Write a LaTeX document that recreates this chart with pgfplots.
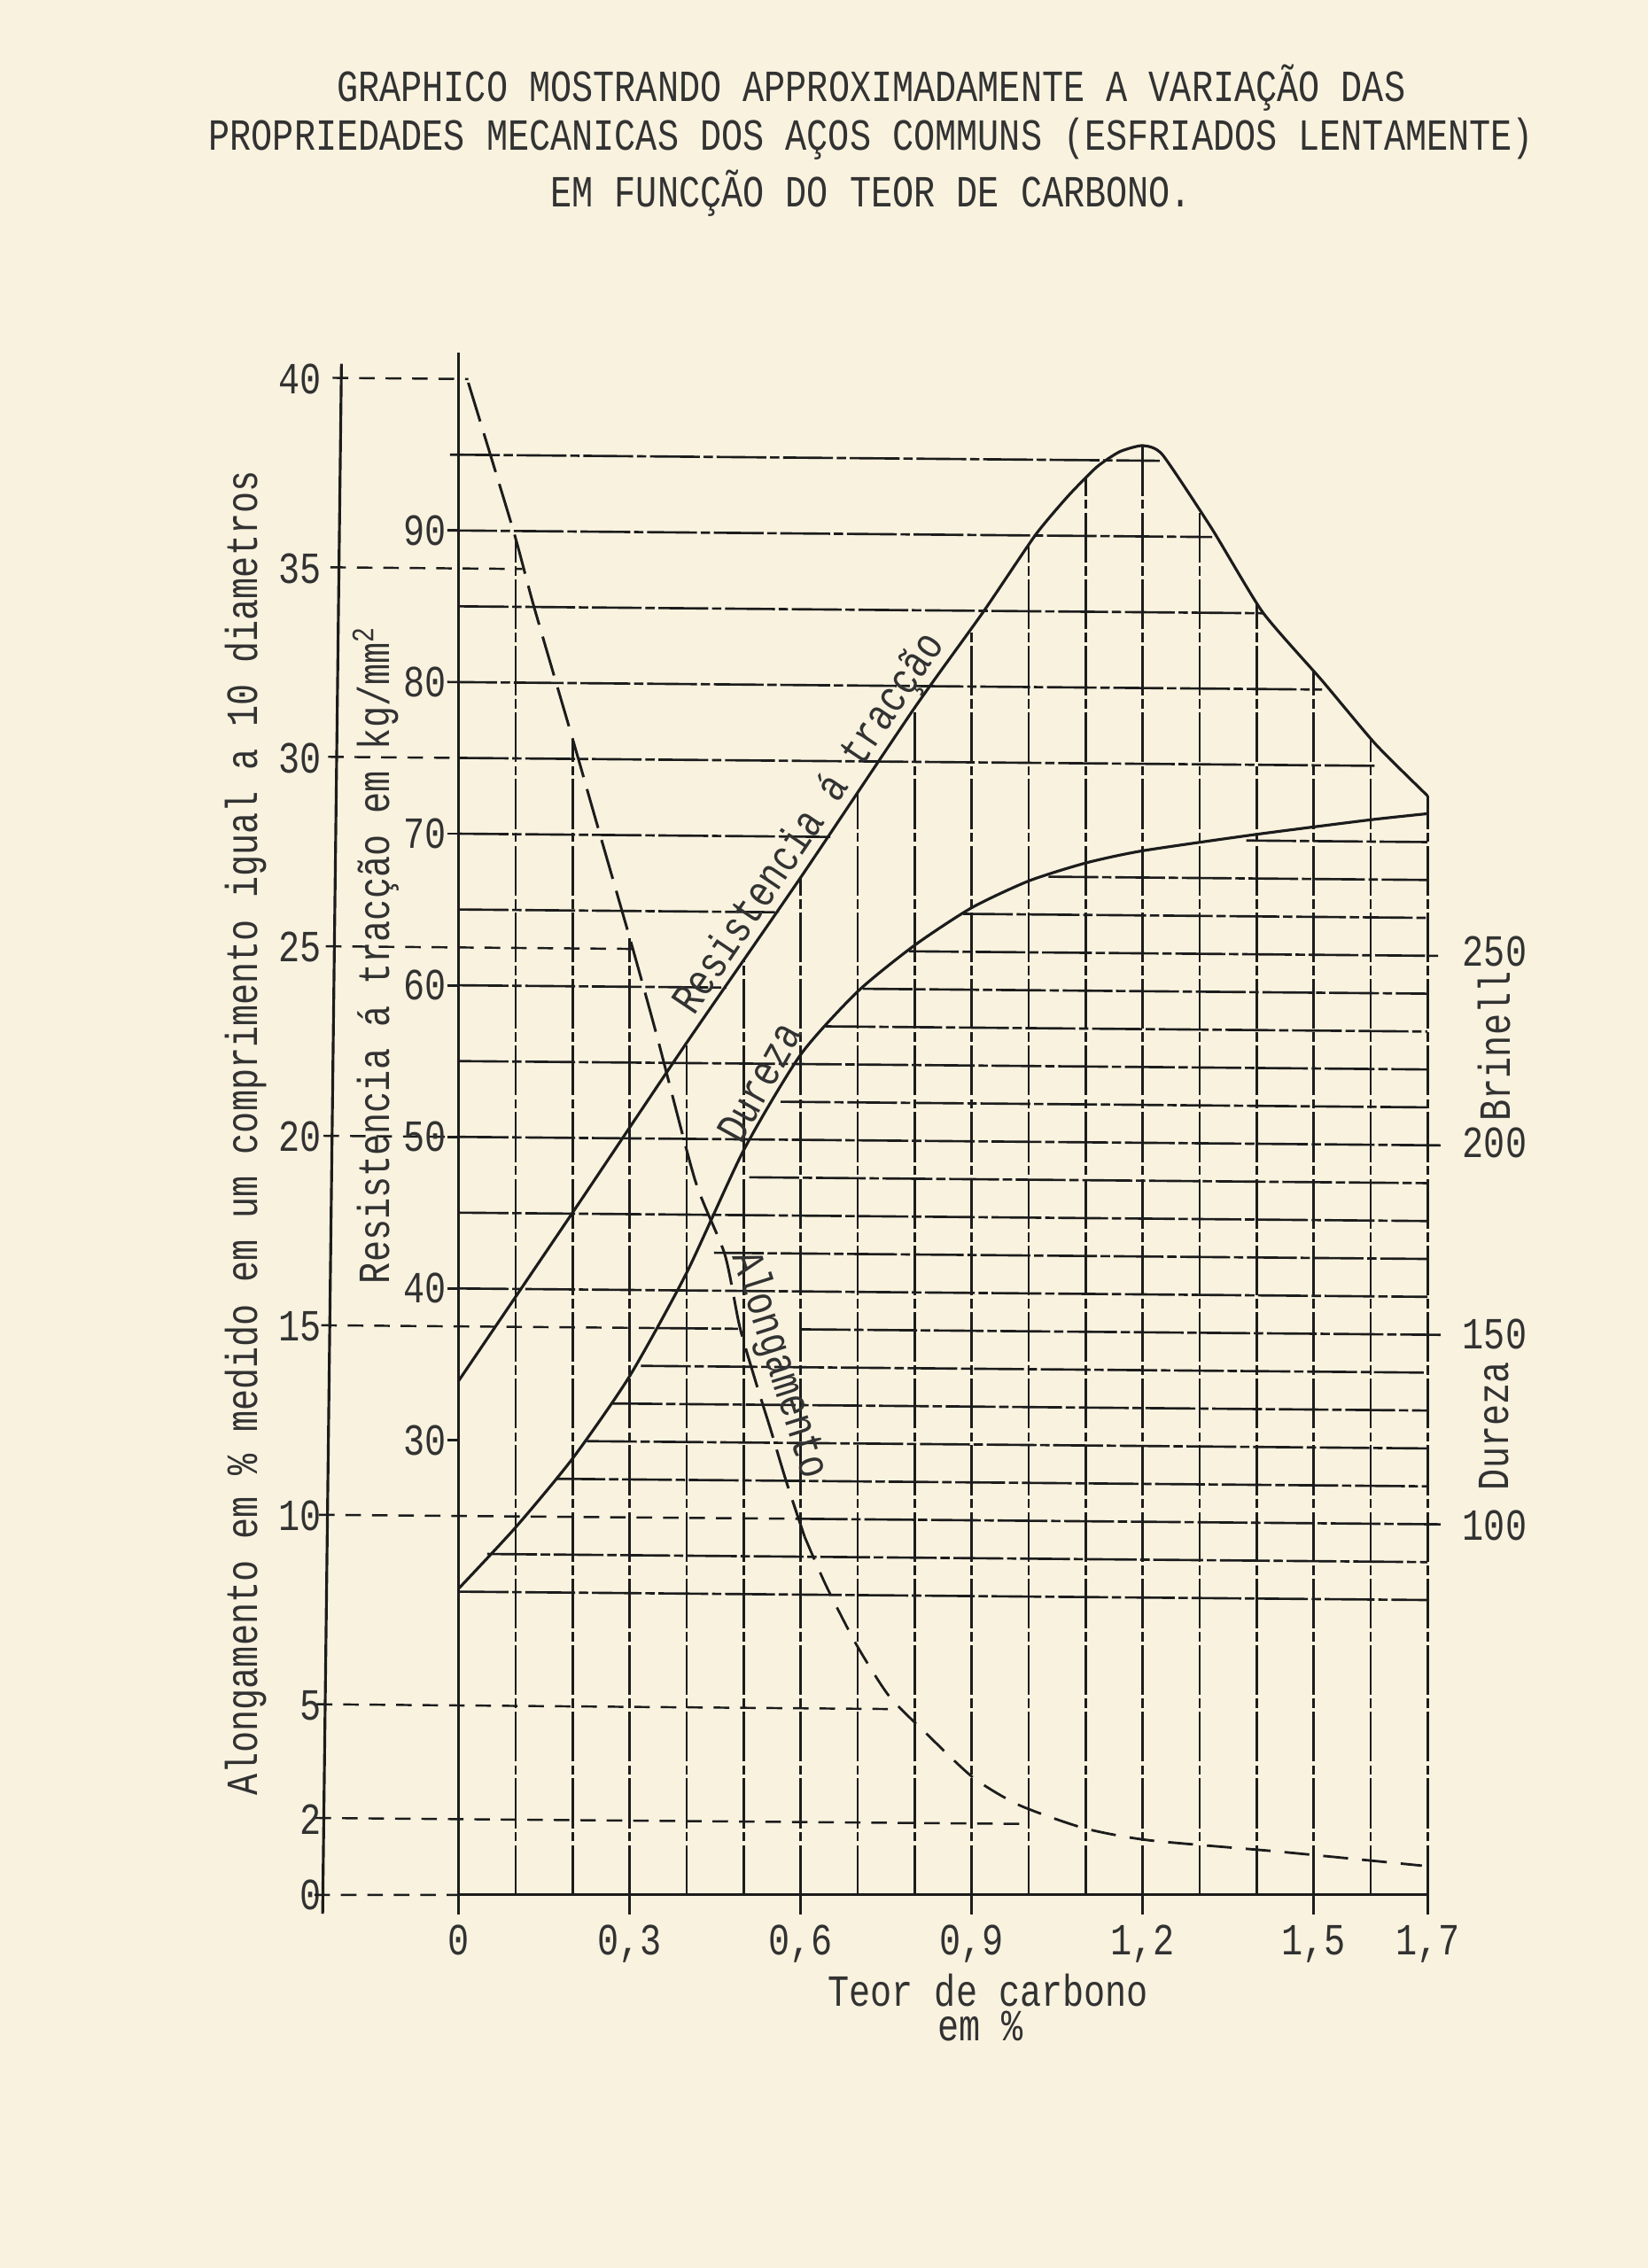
\documentclass[border=0pt]{standalone}
\usepackage{fontspec}
\usepackage{pgfplots}
\pgfplotsset{compat=1.18}
\newfontfamily\tw[FakeStretch=0.8]{Liberation Mono}
\newcommand{\twf}{\tw\fontsize{14.3}{16}\selectfont}
\definecolor{paper}{RGB}{248,242,223}
\definecolor{ink}{RGB}{28,28,28}
\definecolor{typeink}{RGB}{50,50,50}
\pgfplotsset{
  sheet/.style={at={(#1,0)}, anchor=south west, scale only axis, height=17.114cm,
    clip=false, axis line style={draw=none}},
}
\tikzset{
  gridl/.style={ink, line width=0.75pt, dash pattern=on 16pt off 1.2pt on 3pt off 1.2pt},
  tickdash/.style={ink, line width=0.7pt, dash pattern=on 5pt off 3.5pt},
  axisl/.style={ink, line width=0.9pt},
  curve/.style={ink, line width=0.9pt, smooth, tension=0.4},
  lab/.style={font=\twf, text=typeink},
}
\begin{document}
\begin{tikzpicture}
\fill[paper] (-3.7233,-4.2131) rectangle (14.8767,21.3923);
% ---------------- alongamento frame (also grid, x axis) ----------------
\begin{axis}[sheet=0cm, width=12.392cm,
  xmin=-0.226, xmax=1.7, ymin=0, ymax=40,
  axis x line*=bottom, axis y line*=left,
  xtick={0,0.3,0.6,0.9,1.2,1.5,1.7},
  xticklabels={0,{0,3},{0,6},{0,9},{1,2},{1,5},{1,7}},
  ytick={0,2,5,10,15,20,25,30,35,40},
  yticklabels={0,2,5,10,15,20,25,30,35,40},
  xtick align=outside, ytick align=inside,
  major tick length=0.22cm,
  xtick style={ink, line width=0.8pt},
  ytick style={draw=none},
  ticklabel style={font=\twf, text=typeink},
  yticklabel style={anchor=east, inner sep=0pt, xshift=-0.09cm},
  unbounded coords=jump,
]
% axis lines
\addplot[axisl] coordinates {(-0.2386,-0.5) (-0.2056,40.4)};
\addplot[axisl] coordinates {(0,0) (0,40.7)};
\addplot[axisl] coordinates {(0,0) (1.7,0)};
% dashed elongation reference lines
\addplot[tickdash] coordinates {
 (-0.253,0) (0,0) (0,nan)
 (-0.221,40.029) (0.017,39.998) (0,nan)
 (-0.225,35.029) (0.112,34.985) (0,nan)
 (-0.229,30.029) (0,30) (0,nan)
 (-0.233,25.029) (0.304,24.960) (0,nan)
 (-0.237,20.029) (0,20) (0,nan)
 (-0.241,15.029) (0.35,14.955) (0,nan)
 (-0.245,10.029) (0.595,9.923) (0,nan)
 (-0.249,5.029) (0.757,4.902) (0,nan)
 (-0.251,2.029) (1.0,1.870)
};
% horizontal grid lines
\addplot[gridl] coordinates {
 (-0.015,38.002) (1.23,37.840) (0,nan)
 (-0.02,36.003) (1.322,35.828) (0,nan)
 (0,34) (1.411,33.817) (0,nan)
 (-0.02,32.003) (1.515,31.803) (0,nan)
 (0,30) (1.609,29.791) (0,nan)
 (0,28) (0.652,27.915) (0,nan)
 (1.382,27.820) (1.7,27.779) (0,nan)
 (1.035,26.865) (1.7,26.779) (0,nan)
 (0,26) (0.562,25.927) (0,nan)
 (0.885,25.885) (1.7,25.779) (0,nan)
 (0.79,24.897) (1.723,24.776) (0,nan)
 (0,24) (0.47,23.939) (0,nan)
 (0.709,23.908) (1.7,23.779) (0,nan)
 (0.644,22.916) (1.7,22.779) (0,nan)
 (0,22) (1.7,21.779) (0,nan)
 (0.565,20.927) (1.7,20.779) (0,nan)
 (0,20) (1.723,19.776) (0,nan)
 (0.51,18.934) (1.7,18.779) (0,nan)
 (0,18) (1.7,17.779) (0,nan)
 (0.448,16.942) (1.7,16.779) (0,nan)
 (0,16) (1.7,15.779) (0,nan)
 (0.35,14.955) (0.49,14.936) (0,nan)
 (0.6,14.922) (1.723,14.776) (0,nan)
 (0.32,13.958) (1.7,13.779) (0,nan)
 (0.27,12.965) (1.7,12.779) (0,nan)
 (0.225,11.971) (1.7,11.779) (0,nan)
 (0.17,10.978) (1.7,10.779) (0,nan)
 (0.595,9.923) (1.723,9.776) (0,nan)
 (0.05,8.994) (1.7,8.779) (0,nan)
 (0,8.0) (1.7,7.779)
};
% vertical grid lines
\addplot[gridl] coordinates {
 (0.1,0) (0.1,35.8) (0,nan)
 (0.2,0) (0.2,30.5) (0,nan)
 (0.3,0) (0.3,25.25) (0,nan)
 (0.4,0) (0.4,22.48) (0,nan)
 (0.5,0) (0.5,24.66) (0,nan)
 (0.6,0) (0.6,26.84) (0,nan)
 (0.7,0) (0.7,29.08) (0,nan)
 (0.8,0) (0.8,31.32) (0,nan)
 (0.9,0) (0.9,33.42) (0,nan)
 (1.0,0) (1.0,35.6) (0,nan)
 (1.1,0) (1.1,37.4) (0,nan)
 (1.2,0) (1.2,38.24) (0,nan)
 (1.3,0) (1.3,36.51) (0,nan)
 (1.4,0) (1.4,34.11) (0,nan)
 (1.5,0) (1.5,32.3) (0,nan)
 (1.6,0) (1.6,30.52) (0,nan)
 (1.7,0) (1.7,29.0)
};
% Alongamento (elongation, %)
\addplot[curve, line width=0.85pt, dash pattern=on 13pt off 4pt] coordinates {
 (0.017,39.9) (0.096,36.0) (0.132,34.0) (0.2,30.5) (0.239,28.45) (0.304,25.05)
 (0.349,22.6) (0.415,18.85) (0.467,16.9) (0.493,15.0) (0.522,13.5) (0.548,12.25)
 (0.575,10.9) (0.607,9.45)
};
\addplot[curve, line width=0.8pt, dash pattern=on 8pt off 4.5pt] coordinates {
 (0.607,9.45) (0.645,8.15) (0.698,6.6) (0.755,5.25) (0.823,4.22)
 (0.903,3.09) (0.983,2.37) (1.097,1.76) (1.211,1.44) (1.439,1.14) (1.69,0.77)
};
% texts
\node[lab, anchor=base] at (axis cs:0.724,47.32) {GRAPHICO MOSTRANDO APPROXIMADAMENTE A VARIAÇÃO DAS};
\node[lab, anchor=base] at (axis cs:0.724,46.03) {PROPRIEDADES MECANICAS DOS AÇOS COMMUNS (ESFRIADOS LENTAMENTE)};
\node[lab, anchor=base] at (axis cs:0.724,44.55) {EM FUNCÇÃO DO TEOR DE CARBONO.};
\node[lab, rotate=90] at (axis cs:-0.373,20.1) {Alongamento em \% medido em um comprimento igual a 10 diametros};
\node[lab, rotate=90] at (axis cs:-0.145,24.8) {Resistencia á tracção em kg/mm\textsuperscript{2}};
\node[lab, anchor=base] at (axis cs:0.929,-2.95) {Teor de carbono};
\node[lab, anchor=base] at (axis cs:0.916,-3.85) {em \%};
\node[lab, rotate=56] at (axis cs:0.617,28.24) {Resistencia á tracção};
\node[lab, rotate=61] at (axis cs:0.528,21.45) {Dureza};
\node[lab, rotate=-72.4] at (axis cs:0.5625,13.97) {Alongamento};
\node[lab, rotate=90] at (axis cs:1.817,22.39) {Brinell};
\node[lab, rotate=90] at (axis cs:1.817,12.37) {Dureza};
\end{axis}
% ---------------- resistance frame (kg/mm2) ----------------
\begin{axis}[sheet=1.4534cm, width=10.938cm,
  xmin=0, xmax=1.7, ymin=0, ymax=100,
  axis x line=none, axis y line*=left, xtick=\empty,
  ytick={30,40,50,60,70,80,90}, yticklabels={30,40,50,60,70,80,90},
  ytick align=outside, major tick length=0.13cm,
  tick style={ink, line width=0.8pt},
  ticklabel style={font=\twf, text=typeink},
  yticklabel style={anchor=east, inner sep=0pt},
]
\addplot[curve, tension=0.35] coordinates {
 (0,33.9) (0.2,45.0) (0.4,56.2) (0.6,67.1) (0.8,78.3) (0.92,84.6) (1.012,89.7)
 (1.07,92.3) (1.12,94.2) (1.16,95.2) (1.2,95.6) (1.235,95.0) (1.322,90.1)
 (1.411,84.6) (1.515,80.1) (1.609,75.9) (1.70,72.5)
};
\end{axis}
% ---------------- Brinell hardness frame ----------------
\begin{axis}[sheet=1.4534cm, width=10.938cm,
  xmin=0, xmax=1.7, ymin=3.4, ymax=399.5,
  axis x line=none, axis y line*=right, xtick=\empty,
  ytick={100,150,200,250}, yticklabels={100,150,200,250},
  major tick length=0pt,
  ticklabel style={font=\twf, text=typeink},
  yticklabel style={anchor=west, inner sep=0pt, xshift=0.39cm},
]
\addplot[curve] coordinates {
 (0,83.4) (0.1,99.4) (0.2,117.4) (0.3,138.9) (0.4,165.9) (0.5,197.9) (0.6,222.9)
 (0.7,239.4) (0.8,251.5) (0.9,261.3) (1.0,268.3) (1.1,273.0) (1.2,276.2)
 (1.4,280.5) (1.6,284.3) (1.7,285.9)
};
\end{axis}
\pgfresetboundingbox
\path[use as bounding box] (-3.7233,-4.2131) rectangle (14.8767,21.3923);
\end{tikzpicture}
\end{document}
